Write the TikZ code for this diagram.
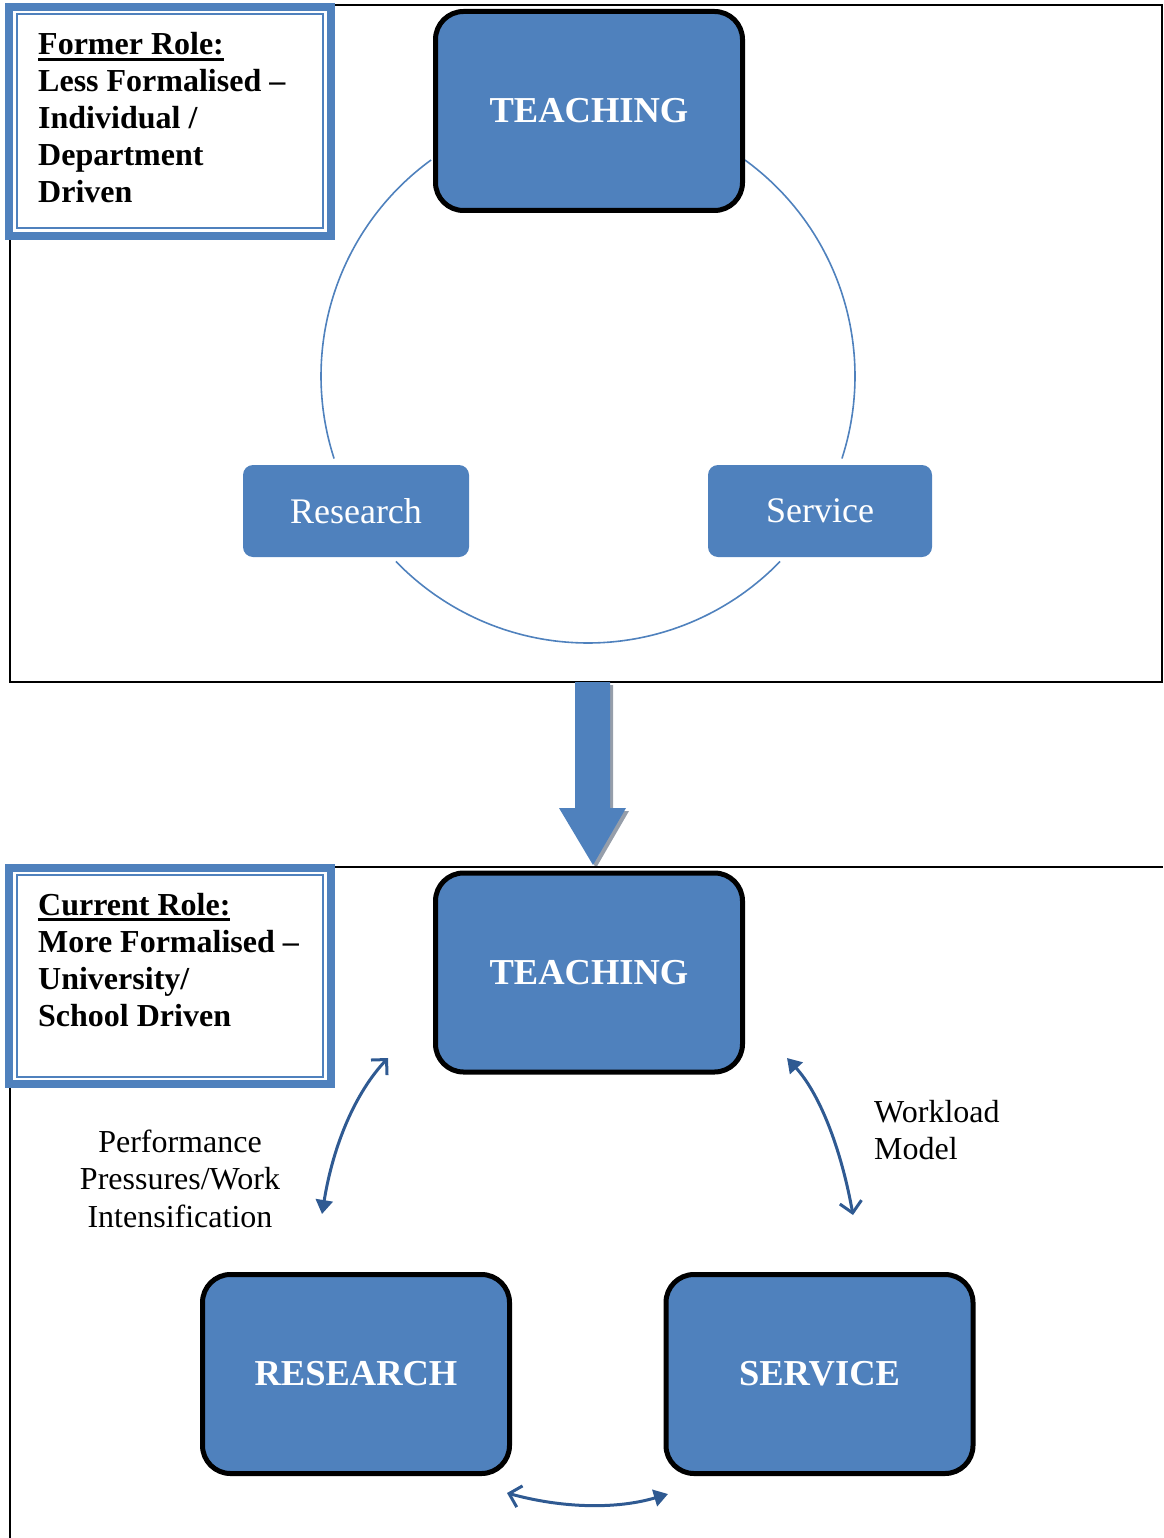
\documentclass[tikz,border=0pt]{standalone}
\usepackage{fontspec}
\setmainfont{Liberation Serif}
\usetikzlibrary{arrows.meta}
\definecolor{accent}{RGB}{79,129,189}
\definecolor{arrowblue}{RGB}{47,90,146}
\definecolor{shadowgray}{RGB}{150,158,170}
% thick underline for the role headings
\newcommand\headul[1]{\leavevmode\setbox0=\hbox{#1}\rlap{\rule[-6pt]{\wd0}{3pt}}\box0}
\begin{document}
\begin{tikzpicture}[x=1pt,y=-1pt,
  bigbox/.style={rectangle, rounded corners=28pt, draw=black, line width=5pt,
    fill=accent, minimum width=307pt, minimum height=199pt, text=white,
    font=\fontsize{36.5}{40}\selectfont\bfseries},
  smallbox/.style={rectangle, rounded corners=10pt, fill=accent,
    minimum height=92pt, text=white, font=\fontsize{36}{40}\selectfont},
  ring/.style={accent, line width=1.6pt},
  link/.style={arrowblue, line width=3pt},
  roletext/.style={anchor=base west, align=left, inner sep=0pt,
    font=\fontsize{32}{37}\selectfont\bfseries},
  notetext/.style={inner sep=0pt, font=\fontsize{32}{37.5}\selectfont},
  rolebox/.style={accent, line width=8pt, fill=white},
  roleinner/.style={accent, line width=2pt},
  opentip/.tip={Straight Barb[length=11pt,width=22pt]},
  solidtip/.tip={Triangle[length=14pt,width=17pt]},
]
\useasboundingbox (0,0) rectangle (1163,1538);

% ---------- former role panel ----------
\draw[line width=2pt] (10,5) rectangle (1162,682);

\draw[ring] plot[domain=162:234, samples=60, smooth] ({588+267*cos(\x)}, {376+267*sin(\x)});
\draw[ring] plot[domain=-54:18, samples=60, smooth] ({588+267*cos(\x)}, {376+267*sin(\x)});
\draw[ring] plot[domain=44:136, samples=60, smooth] ({588+267*cos(\x)}, {376+267*sin(\x)});

\node[bigbox] (teachA) at (589,111) {TEACHING};
\node[smallbox, minimum width=226pt] (researchA) at (356,511) {Research};
\node[smallbox, minimum width=224pt] (serviceA) at (820,511) {Service};

\draw[rolebox] (9,7) rectangle (331,236);
\draw[roleinner] (16.5,14.5) rectangle (323,228);
% base anchor sits on the last line
\node[roletext] (former) at (38,203)
  {\headul{Former Role:}\\Less Formalised –\\Individual /\\Department\\Driven};

% ---------- transition arrow ----------
\fill[shadowgray] (578,685) -- (613,685) -- (613,811) -- (629,811) -- (596,868)
  -- (562,811) -- (578,811) -- cycle;
\fill[accent] (575,682) -- (610,682) -- (610,808) -- (626,808) -- (593,865)
  -- (559,808) -- (575,808) -- cycle;

% ---------- current role panel ----------
\draw[line width=2.5pt] (10,1538) -- (10,867) -- (1163,867);

\node[bigbox] (teachB) at (589,972.5) {TEACHING};
\node[bigbox] (researchB) at (356,1374) {RESEARCH};
\node[bigbox] (serviceB) at (819.5,1374) {SERVICE};

\draw[rolebox] (9,868) rectangle (331,1084);
\draw[roleinner] (17,875) rectangle (323,1077);
\node[roletext] (current) at (38,1026)
  {\headul{Current Role:}\\More Formalised –\\University/\\School Driven};

% end points of the curved links
\coordinate (tl) at (388,1058);
\coordinate (rl) at (322,1214);
\coordinate (tr) at (787,1058);
\coordinate (sr) at (853,1215);
\coordinate (rb) at (507,1493);
\coordinate (sb) at (668,1494);

\draw[link, opentip-solidtip] (tl) .. controls (355.3,1092.7) and (333.3,1144.7) .. (rl);
\draw[link, solidtip-opentip] (tr) .. controls (818.3,1092.3) and (840.3,1144.7) .. (sr);
\draw[link, opentip-solidtip] (rb) .. controls (564,1508.7) and (617.7,1509) .. (sb);

\node[notetext, align=center, anchor=base] (pressure) at (180,1227)
  {Performance\\Pressures/Work\\Intensification};
\node[notetext, align=left, anchor=base west] (workload) at (874,1159.5)
  {Workload\\Model};
\end{tikzpicture}
\end{document}
